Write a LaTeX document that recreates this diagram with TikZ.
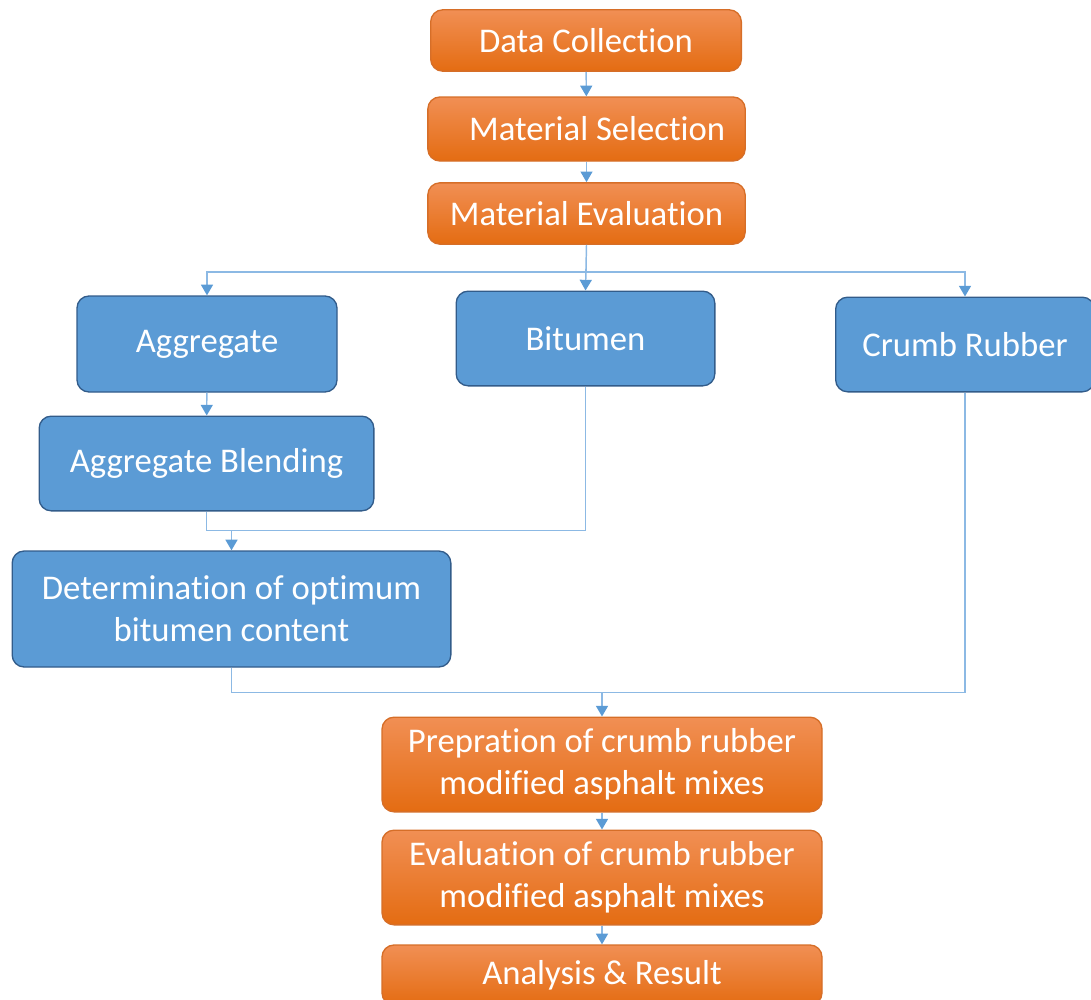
\documentclass[tikz,border=0pt]{standalone}
\usepackage{fontspec}
\setmainfont{Carlito}[Ligatures=NoCommon]
\usetikzlibrary{arrows.meta,positioning}

\definecolor{orTop}{RGB}{241,143,84}
\definecolor{orBot}{RGB}{228,108,18}
\definecolor{orLine}{RGB}{214,110,40}
\definecolor{blFill}{RGB}{91,155,213}
\definecolor{blLine}{RGB}{50,92,138}
\definecolor{conLine}{RGB}{140,185,228}
\definecolor{conTip}{RGB}{91,155,213}

\begin{document}
\begin{tikzpicture}[
    x=0.75pt, y=-0.75pt,
    box/.style={draw, line width=1pt, rounded corners=9pt, align=center, inner sep=0pt,
        text=white, font=\fontsize{26}{31.5}\selectfont},
    obox/.style={box, draw=orLine, top color=orTop, bottom color=orBot},
    bbox/.style={box, draw=blLine, fill=blFill},
    link/.style={draw=conLine, line width=1.1pt},
    arr/.style={link, -{Triangle[width=9pt,length=8pt,color=conTip]}}
]
    \useasboundingbox (0,0) rectangle (1091,999);

    % --- Top chain ---
    \node[obox, minimum width=233pt, minimum height=46pt] (dc) at (586,40.5) {Data Collection};
    \node[obox, minimum width=238pt, minimum height=48pt] (ms) at (586.5,129) {\hspace*{16pt}Material Selection};
    \node[obox, minimum width=238pt, minimum height=46pt] (me) at (586.5,213.5) {Material Evaluation};
    \draw[arr] (dc) -- (ms);
    \draw[arr] (ms) -- (me);

    % --- Materials ---
    \node[bbox, minimum width=195pt, minimum height=72pt] (agg) at (207,344) {Aggregate};
    \node[bbox, minimum width=194pt, minimum height=71pt] (bit) at (585.5,338.5) {Bitumen};
    \node[bbox, minimum width=194pt, minimum height=71pt] (crumb) at (965,344.5) {Crumb Rubber};
    \draw[arr] (me.south) -- ++(0,27) -| (agg.north);
    \draw[arr] (me.south) -- (bit.north);
    \draw[arr] (me.south) -- ++(0,27) -| (crumb.north);

    % --- Aggregate branch ---
    \node[bbox, minimum width=251pt, minimum height=71pt] (ab) at (206.5,463.5) {Aggregate Blending};
    \draw[arr] (agg) -- (ab);

    \node[bbox, minimum width=329pt, minimum height=87pt] (dobc) at (231.5,609) {Determination of optimum\\bitumen content};
    \path (dobc.north) ++(0,-20) coordinate (join1);
    \draw[link] (ab.south) |- (join1) -| (bit.south);
    \draw[arr] (join1) -- (dobc.north);

    % --- Mixes ---
    \node[obox, minimum width=330pt, minimum height=71pt] (prep) at (602,764.5) {Prepration of crumb rubber\\modified asphalt mixes};
    \path (prep.north) ++(0,-24) coordinate (join2);
    \draw[link] (dobc.south) |- (join2) -| (crumb.south);
    \draw[arr] (join2) -- (prep.north);

    \node[obox, minimum width=330pt, minimum height=71pt] (eval) at (602,877.5) {Evaluation of crumb rubber\\modified asphalt mixes};
    \node[obox, minimum width=330pt, minimum height=45pt] (ana) at (602,975) {Analysis \& Result};
    \draw[arr] (prep) -- (eval);
    \draw[arr] (eval) -- (ana);
\end{tikzpicture}
\end{document}
